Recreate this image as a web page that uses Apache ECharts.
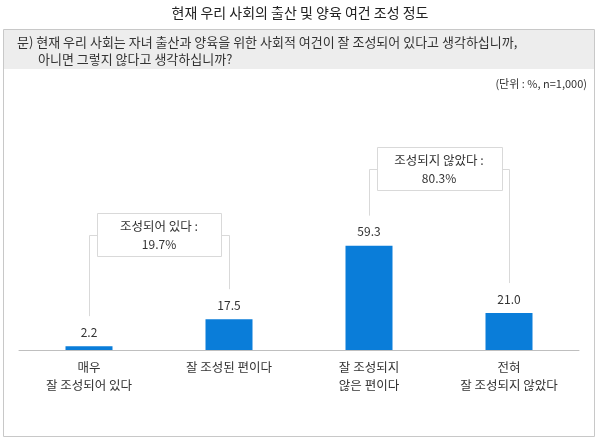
<!DOCTYPE html>
<html><head><meta charset="utf-8">
<script src="https://cdn.jsdelivr.net/npm/echarts@6/dist/echarts.min.js"></script>
<style>html,body{margin:0;padding:0;background:#fff}#c{width:600px;height:441px}</style>
</head><body><div id="c"></div>
<script>
var title = '현재 우리 사회의 출산 및 양육 여건 조성 정도';
var question1 = '문) 현재 우리 사회는 자녀 출산과 양육을 위한 사회적 여건이 잘 조성되어 있다고 생각하십니까,';
var question2 = '아니면 그렇지 않다고 생각하십니까?';
var unitText = '(단위 : %, n=1,000)';
var categories = ['매우\n잘 조성되어 있다', '잘 조성된 편이다', '잘 조성되지\n않은 편이다', '전혀\n잘 조성되지 않았다'];
var values = [2.2, 17.5, 59.3, 21.0];
var groupLabels = ['조성되어 있다 :', '조성되지 않았다 :'];
var groupValues = ['19.7%', '80.3%'];
var groupRanges = [[0, 1], [2, 3]];

var FONT = '"Noto Sans CJK KR", "Noto Sans", sans-serif';
var chart = echarts.init(document.getElementById('c'), null, {renderer: 'canvas'});
var option = {
  animation: false,
  backgroundColor: '#fff',
  grid: {left: 19, right: 21, top: 174, bottom: 91, containLabel: false},
  xAxis: {
    type: 'category', data: categories,
    axisLine: {lineStyle: {color: '#bfbfbf', width: 1}},
    axisTick: {show: false},
    axisLabel: {color: '#333', fontSize: 12.5, fontFamily: FONT, lineHeight: 18, margin: 8, interval: 0}
  },
  yAxis: {type: 'value', min: 0, max: 100, show: false, splitLine: {show: false}},
  series: [{
    type: 'bar', data: values, barWidth: 47,
    itemStyle: {color: '#0a7dd9'},
    label: {show: true, position: 'top', distance: 8, color: '#333', fontSize: 12, fontFamily: FONT,
      formatter: function (p) { return p.value.toFixed(1); }}
  }]
};
chart.setOption(option);

function buildGraphics() {
  var g = [];
  g.push({type: 'rect', shape: {x: 3.5, y: 29.5, width: 591, height: 407}, style: {fill: '#fff', stroke: '#c8c8c8', lineWidth: 1}, z: -10});
  g.push({type: 'rect', shape: {x: 4, y: 30, width: 590, height: 39}, style: {fill: '#ededed', stroke: null}, z: -9});
  g.push({type: 'text', x: 300, y: 13, style: {text: title, font: '14px ' + FONT, fill: '#222', textAlign: 'center', textVerticalAlign: 'middle'}});
  g.push({type: 'text', x: 17, y: 42, style: {text: question1, font: '13px ' + FONT, fill: '#333', textVerticalAlign: 'middle'}});
  g.push({type: 'text', x: 38, y: 59, style: {text: question2, font: '13px ' + FONT, fill: '#333', textVerticalAlign: 'middle'}});
  g.push({type: 'text', x: 587, y: 84, style: {text: unitText, font: '11px ' + FONT, fill: '#333', textAlign: 'right', textVerticalAlign: 'middle'}});
  var boxY = [235, 169];
  var halfW = [62, 62.5];
  for (var i = 0; i < groupRanges.length; i++) {
    var a = groupRanges[i][0], b = groupRanges[i][1];
    var xa = chart.convertToPixel({xAxisIndex: 0}, a);
    var xb = chart.convertToPixel({xAxisIndex: 0}, b);
    var ya = chart.convertToPixel({yAxisIndex: 0}, values[a]) - 30;
    var yb = chart.convertToPixel({yAxisIndex: 0}, values[b]) - 30;
    var cy = boxY[i], cx = (xa + xb) / 2;
    var lc = '#d9d9d9';
    g.push({type: 'polyline', shape: {points: [[Math.round(xa) + 0.5, ya], [Math.round(xa) + 0.5, cy + 0.5], [cx, cy + 0.5]]}, style: {stroke: lc, lineWidth: 1, fill: null}, z: 1});
    g.push({type: 'polyline', shape: {points: [[Math.round(xb) + 0.5, yb], [Math.round(xb) + 0.5, cy + 0.5], [cx, cy + 0.5]]}, style: {stroke: lc, lineWidth: 1, fill: null}, z: 1});
    g.push({type: 'rect', shape: {x: Math.round(cx - halfW[i]) + 0.5, y: cy - 21.5, width: halfW[i] * 2, height: 43}, style: {fill: '#fff', stroke: lc, lineWidth: 1}, z: 2});
    g.push({type: 'text', x: cx, y: cy - 9, style: {text: groupLabels[i], font: '12.5px ' + FONT, fill: '#333', textAlign: 'center', textVerticalAlign: 'middle'}, z: 3});
    g.push({type: 'text', x: cx, y: cy + 9, style: {text: groupValues[i], font: '12px ' + FONT, fill: '#333', textAlign: 'center', textVerticalAlign: 'middle'}, z: 3});
  }
  return g;
}
chart.setOption({graphic: buildGraphics()});
</script>
</body></html>
